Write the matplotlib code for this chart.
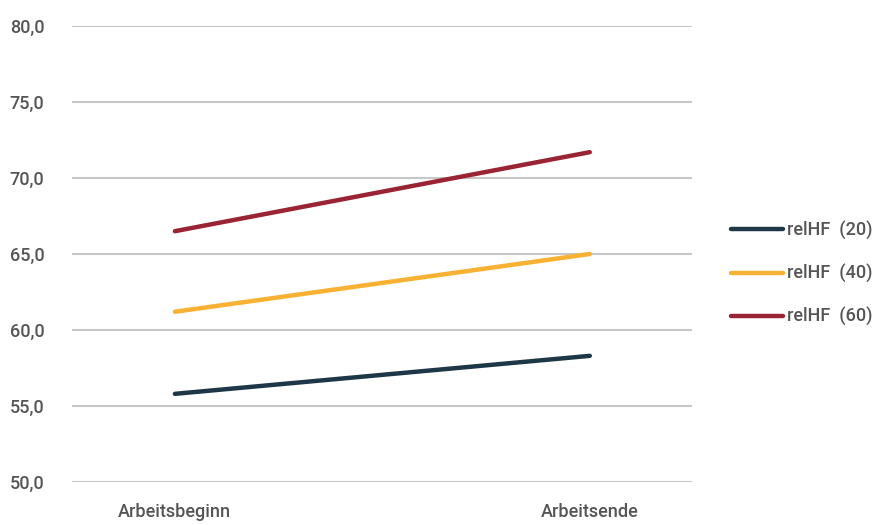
import matplotlib
matplotlib.use("Agg")
import matplotlib.pyplot as plt

categories = ["Arbeitsbeginn", "Arbeitsende"]
series_names = ["relHF  (20)", "relHF  (40)", "relHF  (60)"]
rel_hf_20 = [55.8, 58.3]
rel_hf_40 = [61.2, 65.0]
rel_hf_60 = [66.5, 71.7]
y_ticks = [50, 55, 60, 65, 70, 75, 80]

colors = ["#1e3746", "#f8b132", "#9a2433"]
text_color = "#555555"
grid_color = "#c6c6c6"

plt.rcParams["font.family"] = ["Roboto", "DejaVu Sans"]
plt.rcParams["font.weight"] = "medium"

fig = plt.figure(figsize=(8.78, 5.25), dpi=100)
ax = fig.add_axes([0.082, 0.0819, 0.706, 0.8686])

x = list(range(len(categories)))
for vals, name, c in zip([rel_hf_20, rel_hf_40, rel_hf_60], series_names, colors):
    ax.plot(x, vals, color=c, lw=3.2, solid_capstyle="round", label=name, zorder=3)

ax.set_xlim(-0.248, 1.246)
ax.set_ylim(50, 80)
ax.set_yticks(y_ticks)
ax.set_yticklabels([f"{v:.1f}".replace(".", ",") for v in y_ticks])
ax.set_xticks(x)
ax.set_xticklabels(categories)

ax.grid(axis="y", color=grid_color, lw=1.5)
ax.grid(axis="x", visible=False)
for s in ax.spines.values():
    s.set_visible(False)
ax.tick_params(axis="both", length=0, colors=text_color, labelsize=13)
ax.tick_params(axis="y", pad=20)
ax.tick_params(axis="x", pad=15)

leg = ax.legend(loc="center left", bbox_to_anchor=(1.037, 0.457), frameon=False,
                fontsize=13, handlelength=2.9, handletextpad=0.2,
                labelspacing=1.35)
for t in leg.get_texts():
    t.set_color(text_color)

fig.savefig("out.png", dpi=100)
